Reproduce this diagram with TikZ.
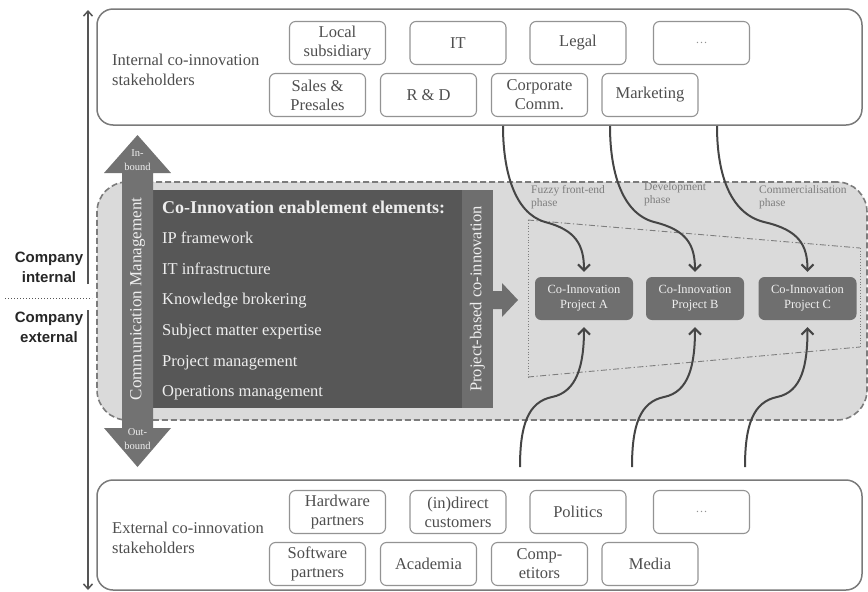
\documentclass[tikz,border=0pt]{standalone}
\usepackage{fontspec}
\setmainfont{Liberation Serif}
\newfontfamily\headsans{Liberation Sans}
\usetikzlibrary{arrows.meta}
\definecolor{sgray}{HTML}{939393}
\definecolor{bgray}{HTML}{7A7A7A}
\definecolor{tgray}{HTML}{4E4E4E}
\definecolor{regfill}{HTML}{DADADA}
\definecolor{regline}{HTML}{7C7C7C}
\definecolor{darkbox}{HTML}{575757}
\definecolor{stripc}{HTML}{6E6E6E}
\definecolor{commc}{HTML}{727272}
\definecolor{projc}{HTML}{6F6F6F}
\definecolor{flowc}{HTML}{454545}
\definecolor{phasec}{HTML}{7E7E7E}
\definecolor{axisc}{HTML}{555555}
\definecolor{lighttxt}{HTML}{EEEEEE}
\begin{document}
\begin{tikzpicture}[x=1pt,y=-1pt,
  stake/.style={draw=sgray, line width=1.1pt, rounded corners=6pt, minimum width=96pt, minimum height=43pt, inner sep=0pt, align=center, text=tgray, font=\fontsize{16.5}{19}\selectfont},
  bigbox/.style={draw=bgray, line width=1.5pt, rounded corners=16pt, minimum width=765pt, inner sep=0pt},
  grouplabel/.style={anchor=west, align=left, text=tgray, font=\fontsize{16.5}{20}\selectfont, inner sep=0pt},
  proj/.style={fill=projc, rounded corners=6pt, minimum width=98pt, minimum height=43pt, inner sep=0pt, align=center, text=lighttxt, font=\fontsize{12.5}{15}\selectfont},
  flow/.style={draw=flowc, line width=2pt, -{Straight Barb[length=6pt,width=12pt]}},
  phase/.style={anchor=north west, align=left, text=phasec, font=\fontsize{11.5}{13}\selectfont, inner sep=0pt},
  element/.style={anchor=west, text=lighttxt, font=\fontsize{16.5}{19}\selectfont, inner sep=0pt},
  compl/.style={align=center, font=\headsans\bfseries\fontsize{15}{20}\selectfont, text=black!85, inner sep=0pt},
  axis/.style={draw=axisc, line width=1.5pt, -{Straight Barb[length=5pt,width=9pt]}}
]
\useasboundingbox (0,0) rectangle (868,592);

% left axis
\coordinate (axTop) at (88,10);
\coordinate (axMidTop) at (88,284);
\coordinate (axMidBot) at (88,310);
\coordinate (axBot) at (88,590);
\draw[axis] (axMidTop) -- (axTop);
\draw[axis] (axMidBot) -- (axBot);
\coordinate (sepL) at (5,298);
\coordinate (sepR) at (92,298);
\draw[axisc, line width=1pt, dotted] (sepL) -- (sepR);
\node[compl] (cint) at (49,267) {Company\\internal};
\node[compl] (cext) at (49,327) {Company\\external};

% top box
\node[bigbox, minimum height=116pt] (topbox) at (479.5,67) {};
\node[grouplabel] (intlab) at (112,70) {Internal co-innovation\\stakeholders};
\node[stake] (s1) at (337.5,43) {Local\\subsidiary};
\node[stake] (s2) at (458,43) {IT};
\node[stake] (s3) at (578,43) {Legal};
\node[stake, text=sgray] (s4) at (701.5,43) {\fontsize{12}{14}\selectfont\dots};
\node[stake] (s5) at (317.5,95) {Sales \&\\Presales};
\node[stake] (s6) at (428.5,95) {R \& D};
\node[stake] (s7) at (539.5,95) {Corporate\\Comm.};
\node[stake] (s8) at (650,95) {Marketing};

% bottom box
\node[bigbox, minimum height=110pt] (botbox) at (479.5,535) {};
\node[grouplabel] (extlab) at (112,538) {External co-innovation\\stakeholders};
\node[stake] (e1) at (337.5,512) {Hardware\\partners};
\node[stake] (e2) at (458,512) {(in)direct\\customers};
\node[stake] (e3) at (578,512) {Politics};
\node[stake, text=sgray] (e4) at (701.5,512) {\fontsize{12}{14}\selectfont\dots};
\node[stake] (e5) at (317.5,564) {Software\\partners};
\node[stake] (e6) at (428.5,564) {Academia};
\node[stake] (e7) at (539.5,564) {Comp-\\etitors};
\node[stake] (e8) at (650,564) {Media};

% gray region
\node[draw=regline, fill=regfill, line width=1.6pt, dash pattern=on 6pt off 3pt, rounded corners=30pt, minimum width=770pt, minimum height=238pt, inner sep=0pt] (region) at (482,301) {};

% dark enablement box and strip
\fill[darkbox] (153,190) rectangle (462,408);
\fill[stripc] (462,190) rectangle (493,408);
\node[element, font=\bfseries\fontsize{18}{20}\selectfont] (head) at (162,207) {Co-Innovation enablement elements:};
\node[element] (el1) at (162,238) {IP framework};
\node[element] (el2) at (162,269) {IT infrastructure};
\node[element] (el3) at (162,301) {Knowledge brokering};
\node[element] (el4) at (162,332) {Subject matter expertise};
\node[element] (el5) at (162,363) {Project management};
\node[element] (el6) at (162,393) {Operations management};
\node[rotate=90, text=lighttxt, font=\fontsize{16.5}{19}\selectfont, inner sep=0pt] (pbc) at (477.5,299) {Project-based co-innovation};

% communication management double arrow
\fill[commc] (104,173) -- (137.5,135) -- (171,173) -- (153,173) -- (153,428) -- (171,428) -- (137.5,467) -- (104,428) -- (122,428) -- (122,173) -- cycle;
\node[rotate=90, text=lighttxt, font=\fontsize{17}{19}\selectfont, inner sep=0pt] (comm) at (137.5,299) {Communication Management};
\node[align=center, text=lighttxt, font=\fontsize{10.5}{14}\selectfont, inner sep=0pt] (inb) at (137.5,160) {In-\\bound};
\node[align=center, text=lighttxt, font=\fontsize{10.5}{14}\selectfont, inner sep=0pt] (outb) at (137.5,439) {Out-\\bound};

% project-based arrow
\fill[stripc] (493,291) -- (502,291) -- (502,283) -- (518,300) -- (502,317) -- (502,309) -- (493,309) -- cycle;

% trapezoid
\coordinate (tzA) at (528,220);
\coordinate (tzB) at (860,248);
\coordinate (tzC) at (860,347);
\coordinate (tzD) at (528,377);
\draw[phasec, line width=0.9pt, dash pattern=on 6pt off 2.5pt on 1.2pt off 2.5pt] (tzA) -- (tzB);
\draw[phasec, line width=0.9pt, dash pattern=on 6pt off 2.5pt on 1.2pt off 2.5pt] (tzD) -- (tzC);
\draw[phasec, line width=0.8pt, dotted] (tzA) -- (tzD);
\draw[phasec, line width=0.8pt, dotted] (tzB) -- (tzC);

% phase labels
\node[phase] (ph1) at (531,185) {Fuzzy front-end\\phase};
\node[phase] (ph2) at (644,182) {Development\\phase};
\node[phase] (ph3) at (759,185) {Commercialisation\\phase};

% projects
\node[proj] (pA) at (584,298.5) {Co-Innovation\\Project A};
\node[proj] (pB) at (695,298.5) {Co-Innovation\\Project B};
\node[proj] (pC) at (807.5,298.5) {Co-Innovation\\Project C};

% flows from internal stakeholders
\coordinate (tA) at (503,126);
\coordinate (tB) at (610,126);
\coordinate (tC) at (717,126);
\draw[flow, shorten >=5pt] (tA) .. controls (503,170) and (514,213) .. (545,222) .. controls (576,230) and (584,245) .. (pA.north);
\draw[flow, shorten >=5pt] (tB) .. controls (610,170) and (621,213) .. (654,222) .. controls (687,230) and (695,245) .. (pB.north);
\draw[flow, shorten >=5pt] (tC) .. controls (717,170) and (728,213) .. (764,222) .. controls (799,230) and (807.5,245) .. (pC.north);

% flows from external stakeholders
\coordinate (bA) at (520,467);
\coordinate (bB) at (632,467);
\coordinate (bC) at (745,467);
\draw[flow, shorten >=7pt] (bA) .. controls (520,425) and (528,402) .. (552,397) .. controls (577,392) and (584,365) .. (pA.south);
\draw[flow, shorten >=7pt] (bB) .. controls (632,425) and (640,402) .. (664,397) .. controls (689,392) and (695,365) .. (pB.south);
\draw[flow, shorten >=7pt] (bC) .. controls (745,425) and (753,402) .. (777,397) .. controls (802,392) and (807.5,365) .. (pC.south);
\end{tikzpicture}
\end{document}
